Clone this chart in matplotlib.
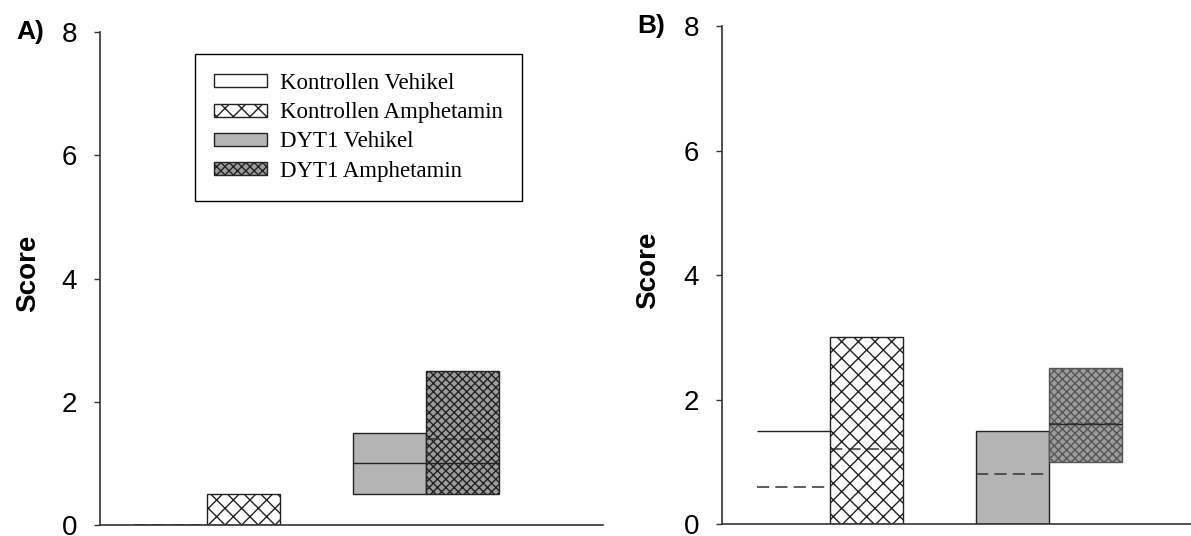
import matplotlib
matplotlib.use('Agg')
import matplotlib.pyplot as plt
from matplotlib.patches import Patch

groups = ['Kontrollen Vehikel', 'Kontrollen Amphetamin', 'DYT1 Vehikel', 'DYT1 Amphetamin']
positions = [1, 2, 4, 5]

# panel A: box from q1 to q3, solid median, dashed mean (None = not drawn)
a_q1 = [0, 0, 0.5, 0.5]
a_q3 = [0, 0.5, 1.5, 2.5]
a_median = [0, 0, 1.0, 1.0]
a_mean = [0, None, None, 1.4]

# panel B
b_q1 = [0, 0, 0, 1.0]
b_q3 = [1.5, 3.0, 1.5, 2.5]
b_median = [1.5, 0, 0, 1.6]
b_mean = [0.6, 1.2, 0.8, 1.6]

yticks = [0, 2, 4, 6, 8]

faces = ['white', 'white', '#b4b4b4', '#9c9c9c']
hatches = ['', 'xx', '', 'xxxx']

plt.rcParams['font.family'] = 'Liberation Sans'
plt.rcParams['hatch.linewidth'] = 1.0


def draw_panel(ax, q1, q3, median, mean, edges, xlim):
    for i in range(len(groups)):
        p = positions[i]
        ax.bar(p, q3[i] - q1[i], width=1, bottom=q1[i], color=faces[i],
               hatch=hatches[i], edgecolor=edges[i], linewidth=1, zorder=2)
        if median[i] is not None:
            ax.hlines(median[i], p - 0.5, p + 0.5, colors='#222222',
                      linewidth=1, zorder=3)
        if mean[i] is not None:
            ax.hlines(mean[i], p - 0.5, p + 0.5, colors='#333333',
                      linewidth=1.1, linestyles=(0, (8, 4)), zorder=3)
    ax.set_xlim(*xlim)
    ax.set_ylim(0, 8)
    ax.set_yticks(yticks)
    ax.set_yticklabels([str(t) for t in yticks])
    ax.set_xticks([])
    ax.spines['top'].set_visible(False)
    ax.spines['right'].set_visible(False)
    for s in ['left', 'bottom']:
        ax.spines[s].set_color('#333333')
        ax.spines[s].set_linewidth(1.2)
        ax.spines[s].set_zorder(4)
    ax.tick_params(axis='y', length=4.3, width=1, pad=12, labelsize=20,
                   color='#333333')
    ax.set_ylabel('Score', fontsize=20, fontweight='bold')


fig = plt.figure(figsize=(11.91, 5.36), dpi=100)
ax1 = fig.add_axes([0.08396, 0.0205, 0.4223, 0.9198])
ax2 = fig.add_axes([0.6062, 0.0224, 0.3938, 0.929])

draw_panel(ax1, a_q1, a_q3, a_median, a_mean,
           ['#222222', '#222222', '#222222', '#222222'], (0.04, 6.93))
draw_panel(ax2, b_q1, b_q3, b_median, b_mean,
           ['white', '#222222', '#222222', '#555555'], (0.02, 6.45))
ax1.yaxis.set_label_coords(-0.118, 0.51)
ax2.yaxis.set_label_coords(-0.13, 0.51)

handles = [Patch(facecolor=faces[i], hatch=hatches[i], edgecolor='#222222',
                 linewidth=1, label=groups[i]) for i in range(len(groups))]
leg = ax1.legend(handles=handles, loc='upper left', bbox_to_anchor=(0.189, 0.955),
                 borderaxespad=0, prop={'family': 'Liberation Serif', 'size': 16.5},
                 frameon=True, fancybox=False, edgecolor='black', framealpha=1,
                 handlelength=2.3, handleheight=0.5, handletextpad=0.6,
                 labelspacing=0.36, borderpad=0.82)
leg.get_frame().set_linewidth(1)

fig.text(0.0252, 0.940, 'A)', ha='center', va='center', fontsize=19, fontweight='bold')
fig.text(0.547, 0.951, 'B)', ha='center', va='center', fontsize=19, fontweight='bold')

fig.savefig('out.png', dpi=100)
